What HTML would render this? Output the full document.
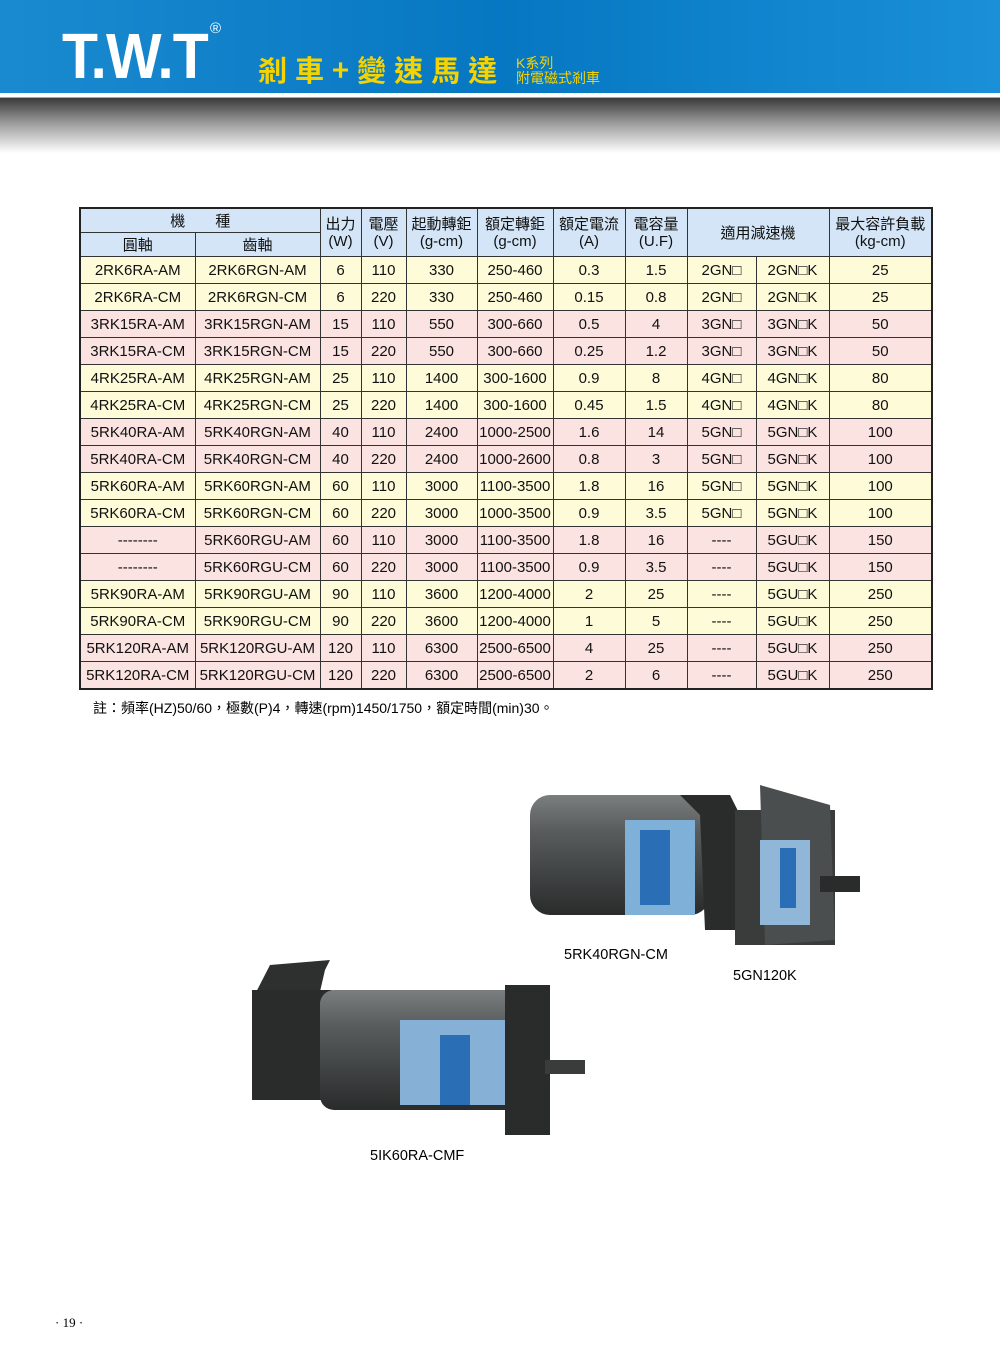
<!DOCTYPE html>
<html><head><meta charset="utf-8"><style>
body{margin:0;width:1000px;height:1358px;background:#fff;position:relative;overflow:hidden;font-family:"Liberation Sans","Noto Sans CJK TC",sans-serif}
.hdr{position:absolute;left:0;top:0;width:1000px;height:93px;background:linear-gradient(90deg,#1a8ad0,#0677c2 50%,#1a90d8)}
.sep{position:absolute;left:0;top:93px;width:1000px;height:4px;background:#fff;border-bottom:1px solid #9ab}
.shade{position:absolute;left:0;top:98px;width:1000px;height:55px;background:linear-gradient(#3a3a3a,#9a9a9a 45%,#fff)}
.logo{position:absolute;left:62px;top:24px;font:bold 64px "Liberation Sans",sans-serif;color:#fff;letter-spacing:-1px;line-height:64px;transform:scaleX(0.92);transform-origin:left}
.reg{position:absolute;left:170px;top:20px;color:#fff;font-size:15px}
.title{position:absolute;left:258px;top:52px;color:#f5d300;font:bold 29px "Noto Sans CJK TC",sans-serif;letter-spacing:8px;line-height:34px}
.sub{position:absolute;left:516px;top:56px;color:#f5d300;font-size:14px;line-height:15px}
table{position:absolute;left:79px;top:207px;border-collapse:collapse;font-size:15px;color:#111}
td{border:1px solid #333;text-align:center;padding:0;height:26px}
tr.h td{background:#d3e5f6;height:22px;line-height:17px;padding-top:1px}
.y td{background:#fdfbd8}.p td{background:#fbe3e1}
table{border:2px solid #222}
.note{position:absolute;left:93px;top:698px;font-size:14px}
.lbl{position:absolute;font-size:14.5px}
.pg{position:absolute;left:55px;top:1315px;font:13px "Liberation Serif",serif}
</style></head><body>
<div class="hdr"></div><div class="sep"></div><div class="shade"></div>
<div class="logo">T.W.T</div><div class="reg" style="left:210px">®</div>
<div class="title">剎車+變速馬達</div>
<div class="sub">K系列<br>附電磁式剎車</div>
<table>
<colgroup><col style="width:115px"><col style="width:125px"><col style="width:41px"><col style="width:45px"><col style="width:71px"><col style="width:76px"><col style="width:72px"><col style="width:62px"><col style="width:69px"><col style="width:73px"><col style="width:103px"></colgroup>
<tr class="h"><td colspan="2">機　　種</td><td rowspan="2">出力<br>(W)</td><td rowspan="2">電壓<br>(V)</td><td rowspan="2">起動轉鉅<br>(g-cm)</td><td rowspan="2">額定轉鉅<br>(g-cm)</td><td rowspan="2">額定電流<br>(A)</td><td rowspan="2">電容量<br>(U.F)</td><td colspan="2" rowspan="2">適用減速機</td><td rowspan="2">最大容許負載<br>(kg-cm)</td></tr>
<tr class="h"><td>圓軸</td><td>齒軸</td></tr>
<tr class="y"><td>2RK6RA-AM</td><td>2RK6RGN-AM</td><td>6</td><td>110</td><td>330</td><td>250-460</td><td>0.3</td><td>1.5</td><td>2GN□</td><td>2GN□K</td><td>25</td></tr>
<tr class="y"><td>2RK6RA-CM</td><td>2RK6RGN-CM</td><td>6</td><td>220</td><td>330</td><td>250-460</td><td>0.15</td><td>0.8</td><td>2GN□</td><td>2GN□K</td><td>25</td></tr>
<tr class="p"><td>3RK15RA-AM</td><td>3RK15RGN-AM</td><td>15</td><td>110</td><td>550</td><td>300-660</td><td>0.5</td><td>4</td><td>3GN□</td><td>3GN□K</td><td>50</td></tr>
<tr class="p"><td>3RK15RA-CM</td><td>3RK15RGN-CM</td><td>15</td><td>220</td><td>550</td><td>300-660</td><td>0.25</td><td>1.2</td><td>3GN□</td><td>3GN□K</td><td>50</td></tr>
<tr class="y"><td>4RK25RA-AM</td><td>4RK25RGN-AM</td><td>25</td><td>110</td><td>1400</td><td>300-1600</td><td>0.9</td><td>8</td><td>4GN□</td><td>4GN□K</td><td>80</td></tr>
<tr class="y"><td>4RK25RA-CM</td><td>4RK25RGN-CM</td><td>25</td><td>220</td><td>1400</td><td>300-1600</td><td>0.45</td><td>1.5</td><td>4GN□</td><td>4GN□K</td><td>80</td></tr>
<tr class="p"><td>5RK40RA-AM</td><td>5RK40RGN-AM</td><td>40</td><td>110</td><td>2400</td><td>1000-2500</td><td>1.6</td><td>14</td><td>5GN□</td><td>5GN□K</td><td>100</td></tr>
<tr class="p"><td>5RK40RA-CM</td><td>5RK40RGN-CM</td><td>40</td><td>220</td><td>2400</td><td>1000-2600</td><td>0.8</td><td>3</td><td>5GN□</td><td>5GN□K</td><td>100</td></tr>
<tr class="y"><td>5RK60RA-AM</td><td>5RK60RGN-AM</td><td>60</td><td>110</td><td>3000</td><td>1100-3500</td><td>1.8</td><td>16</td><td>5GN□</td><td>5GN□K</td><td>100</td></tr>
<tr class="y"><td>5RK60RA-CM</td><td>5RK60RGN-CM</td><td>60</td><td>220</td><td>3000</td><td>1000-3500</td><td>0.9</td><td>3.5</td><td>5GN□</td><td>5GN□K</td><td>100</td></tr>
<tr class="p"><td>--------</td><td>5RK60RGU-AM</td><td>60</td><td>110</td><td>3000</td><td>1100-3500</td><td>1.8</td><td>16</td><td>----</td><td>5GU□K</td><td>150</td></tr>
<tr class="p"><td>--------</td><td>5RK60RGU-CM</td><td>60</td><td>220</td><td>3000</td><td>1100-3500</td><td>0.9</td><td>3.5</td><td>----</td><td>5GU□K</td><td>150</td></tr>
<tr class="y"><td>5RK90RA-AM</td><td>5RK90RGU-AM</td><td>90</td><td>110</td><td>3600</td><td>1200-4000</td><td>2</td><td>25</td><td>----</td><td>5GU□K</td><td>250</td></tr>
<tr class="y"><td>5RK90RA-CM</td><td>5RK90RGU-CM</td><td>90</td><td>220</td><td>3600</td><td>1200-4000</td><td>1</td><td>5</td><td>----</td><td>5GU□K</td><td>250</td></tr>
<tr class="p"><td>5RK120RA-AM</td><td>5RK120RGU-AM</td><td>120</td><td>110</td><td>6300</td><td>2500-6500</td><td>4</td><td>25</td><td>----</td><td>5GU□K</td><td>250</td></tr>
<tr class="p"><td>5RK120RA-CM</td><td>5RK120RGU-CM</td><td>120</td><td>220</td><td>6300</td><td>2500-6500</td><td>2</td><td>6</td><td>----</td><td>5GU□K</td><td>250</td></tr>
</table>
<div class="note">註：頻率(HZ)50/60，極數(P)4，轉速(rpm)1450/1750，額定時間(min)30。</div>
<svg style="position:absolute;left:0;top:780px" width="1000" height="400">
<defs><linearGradient id="cy" x1="0" y1="0" x2="0" y2="1"><stop offset="0" stop-color="#7a7e7e"/><stop offset=".3" stop-color="#585c5c"/><stop offset="1" stop-color="#2a2c2c"/></linearGradient></defs>
<rect x="530" y="15" width="180" height="120" rx="20" fill="url(#cy)"/>
<rect x="625" y="40" width="70" height="95" fill="#7eb0d8"/>
<rect x="640" y="50" width="30" height="75" fill="#2a6fb6"/>
<polygon points="680,15 730,15 740,35 740,150 705,150 700,35" fill="#2a2c2c"/>
<rect x="735" y="30" width="100" height="135" fill="#3a3c3c"/>
<polygon points="760,5 830,25 835,160 765,165" fill="#4a4e4e"/>
<rect x="760" y="60" width="50" height="85" fill="#90b6d8"/>
<rect x="780" y="68" width="16" height="60" fill="#2a6fb6"/>
<rect x="820" y="96" width="40" height="16" fill="#2a2c2c"/>
<polygon points="252,220 252,260 310,255 325,190 330,180 270,185" fill="#2e3030"/>
<rect x="252" y="210" width="80" height="110" fill="#2a2c2c"/>
<rect x="320" y="210" width="200" height="120" rx="14" fill="url(#cy)"/>
<rect x="400" y="240" width="110" height="85" fill="#86b0d6"/>
<rect x="440" y="255" width="30" height="70" fill="#2a6fb6"/>
<rect x="505" y="205" width="45" height="150" fill="#2a2c2c"/>
<rect x="545" y="280" width="40" height="14" fill="#3a3c3c"/>
</svg>
<div class="lbl" style="left:564px;top:947px">5RK40RGN-CM</div>
<div class="lbl" style="left:733px;top:968px">5GN120K</div>
<div class="lbl" style="left:370px;top:1148px">5IK60RA-CMF</div>
<div class="pg">· 19 ·</div>
</body></html>
